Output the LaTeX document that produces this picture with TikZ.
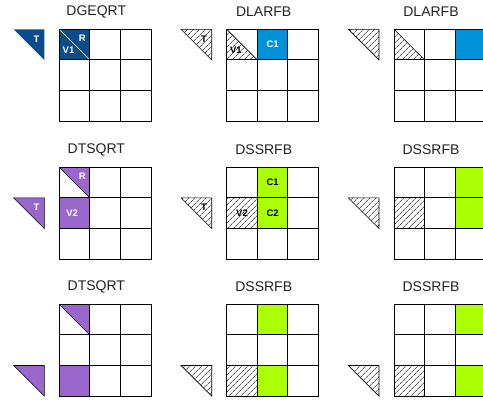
\documentclass[tikz,border=0pt]{standalone}
\usepackage{fontspec}
\setmainfont{Liberation Sans}
\usetikzlibrary{patterns.meta}
\definecolor{qrblue}{HTML}{0B4C8C}
\definecolor{cblue}{HTML}{0092D8}
\definecolor{qrpurple}{HTML}{9966CC}
\definecolor{clime}{HTML}{AAFF00}
\definecolor{ttext}{HTML}{222222}
\tikzset{
  cellline/.style={draw=black,line width=1pt,line cap=rect},
  hatch/.style={pattern={Lines[angle=45,distance=4pt,line width=0.6pt]}},
  triedge/.style={draw=black,line width=0.6pt},
  title/.style={font=\fontsize{14}{16}\selectfont,inner sep=0pt,text=ttext},
  lbl/.style={font=\bfseries\fontsize{9.5}{11}\selectfont,inner sep=0pt},
  wlbl/.style={lbl,text=white},
}
\newcommand{\gridlines}{%
  \foreach \i in {0,1,2,3} {
    \draw[cellline] (\i*\c,0) -- (\i*\c,3*\c);
    \draw[cellline] (0,\i*\c) -- (3*\c,\i*\c);
  }}
\newcommand{\tri}[2]{% style, row
  \path[#1] (-15-\c,#2*\c) -- (-15,#2*\c) -- (-15,#2*\c+\c) -- cycle;}
\begin{document}
\begin{tikzpicture}[x=1pt,y=-1pt]
\useasboundingbox (0,0) rectangle (483,400);
\clip (0,0) rectangle (483,400);
\def\c{30.6}
% ---------- row 1 ----------
\begin{scope}[shift={(59.3,29.3)}]
  \fill[qrblue] (0,0) rectangle (\c,\c);
  \draw[white,line width=0.6pt] (0,0) -- (\c,\c);
  \node[wlbl] (a1r) at (0.75*\c,0.3*\c) {R};
  \node[wlbl] (a1v) at (0.3*\c,0.68*\c) {V1};
  \tri{fill=qrblue}{0}
  \node[wlbl] (a1t) at (-15-0.25*\c,0.32*\c) {T};
  \gridlines
  \node[title] (a1) at (37,-17.6) {DGEQRT};
\end{scope}
\begin{scope}[shift={(226.7,29.3)}]
  \path[hatch] (0,0) -- (0,\c) -- (\c,\c) -- cycle;
  \draw[line width=0.6pt] (0,0) -- (\c,\c);
  \node[lbl] (a2v) at (0.3*\c,0.68*\c) {V1};
  \fill[cblue] (\c,0) rectangle (2*\c,\c);
  \node[wlbl] (a2c) at (1.5*\c,0.5*\c) {C1};
  \tri{hatch,triedge}{0}
  \node[lbl] (a2t) at (-15-0.25*\c,0.32*\c) {T};
  \gridlines
  \node[title] (a2) at (37,-17.6) {DLARFB};
\end{scope}
\begin{scope}[shift={(394,29.3)}]
  \path[hatch] (0,0) -- (0,\c) -- (\c,\c) -- cycle;
  \draw[line width=0.6pt] (0,0) -- (\c,\c);
  \fill[cblue] (2*\c,0) rectangle (3*\c,\c);
  \tri{hatch,triedge}{0}
  \gridlines
  \node[title] (a3) at (37,-17.6) {DLARFB};
\end{scope}
% ---------- row 2 ----------
\begin{scope}[shift={(59.3,167.3)}]
  \fill[qrpurple] (0,0) -- (\c,0) -- (\c,\c) -- cycle;
  \draw[line width=0.6pt] (0,0) -- (\c,\c);
  \node[wlbl] (b1r) at (0.75*\c,0.3*\c) {R};
  \fill[qrpurple] (0,\c) rectangle (\c,2*\c);
  \node[wlbl] (b1v) at (0.42*\c,1.5*\c) {V2};
  \tri{fill=qrpurple,triedge}{1}
  \node[wlbl] (b1t) at (-15-0.25*\c,1.32*\c) {T};
  \gridlines
  \node[title] (b1) at (37,-17.6) {DTSQRT};
\end{scope}
\begin{scope}[shift={(226.7,167.3)}]
  \path[hatch] (0,\c) rectangle (\c,2*\c);
  \node[lbl] (b2v) at (0.5*\c,1.5*\c) {V2};
  \fill[clime] (\c,0) rectangle (2*\c,2*\c);
  \node[lbl] (b2c1) at (1.5*\c,0.5*\c) {C1};
  \node[lbl] (b2c2) at (1.5*\c,1.5*\c) {C2};
  \tri{hatch,triedge}{1}
  \node[lbl] (b2t) at (-15-0.25*\c,1.32*\c) {T};
  \gridlines
  \node[title] (b2) at (37,-17.6) {DSSRFB};
\end{scope}
\begin{scope}[shift={(394,167.3)}]
  \path[hatch] (0,\c) rectangle (\c,2*\c);
  \fill[clime] (2*\c,0) rectangle (3*\c,2*\c);
  \tri{hatch,triedge}{1}
  \gridlines
  \node[title] (b3) at (37,-17.6) {DSSRFB};
\end{scope}
% ---------- row 3 ----------
\begin{scope}[shift={(59.3,304.3)}]
  \fill[qrpurple] (0,0) -- (\c,0) -- (\c,\c) -- cycle;
  \draw[line width=0.6pt] (0,0) -- (\c,\c);
  \fill[qrpurple] (0,2*\c) rectangle (\c,3*\c);
  \tri{fill=qrpurple,triedge}{2}
  \gridlines
  \node[title] (c1) at (37,-17.6) {DTSQRT};
\end{scope}
\begin{scope}[shift={(226.7,304.3)}]
  \path[hatch] (0,2*\c) rectangle (\c,3*\c);
  \fill[clime] (\c,0) rectangle (2*\c,\c);
  \fill[clime] (\c,2*\c) rectangle (2*\c,3*\c);
  \tri{hatch,triedge}{2}
  \gridlines
  \node[title] (c2) at (37,-17.6) {DSSRFB};
\end{scope}
\begin{scope}[shift={(394,304.3)}]
  \path[hatch] (0,2*\c) rectangle (\c,3*\c);
  \fill[clime] (2*\c,0) rectangle (3*\c,\c);
  \fill[clime] (2*\c,2*\c) rectangle (3*\c,3*\c);
  \tri{hatch,triedge}{2}
  \gridlines
  \node[title] (c3) at (37,-17.6) {DSSRFB};
\end{scope}
\end{tikzpicture}
\end{document}
